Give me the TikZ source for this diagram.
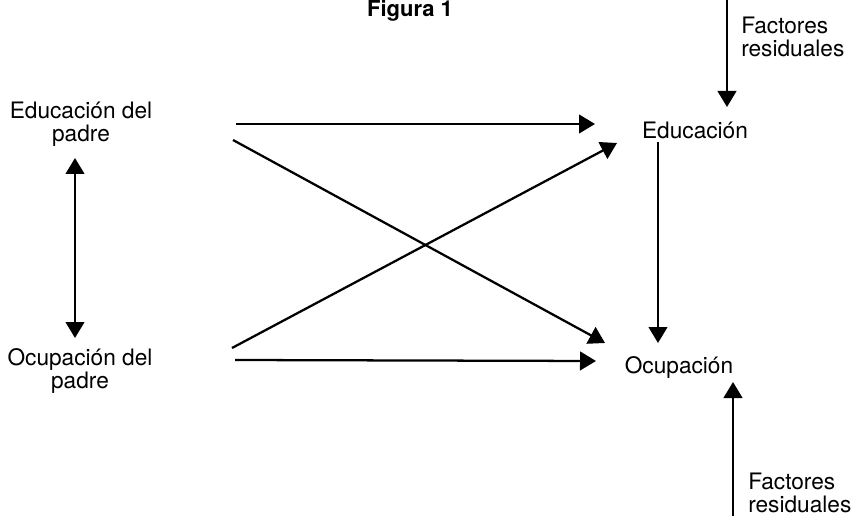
\documentclass[tikz,border=0pt]{standalone}
\usepackage{fontspec}
\setmainfont{TeX Gyre Heros}
\usetikzlibrary{arrows.meta}

\begin{document}
\begin{tikzpicture}[x=0.75pt,y=-0.75pt,
    arr/.style={line width=1.7pt,-{Triangle[length=12pt,width=14pt]}},
    dblarr/.style={line width=1.7pt,{Triangle[length=12pt,width=14pt]}-{Triangle[length=12pt,width=14pt]}},
    lbl/.style={font=\fontsize{17}{17.5}\selectfont,align=center,inner sep=0pt}]
  \useasboundingbox (0,0) rectangle (852,516);
  % title
  \node[font=\fontsize{16.5}{17.5}\selectfont\bfseries,anchor=base,inner sep=0pt] (tit) at (410,17) {Figura 1};
  % variables
  \node[lbl] (edp) at (81,124) {Educación del\\padre};
  \node[lbl] (ocp) at (80,371) {Ocupación del\\padre};
  \node[lbl] (edu) at (695,130) {Educación};
  \node[lbl] (ocu) at (679,368) {Ocupación};
  \node[lbl,align=left,anchor=west] (frt) at (741,37) {Factores\\residuales};
  \node[lbl,align=left,anchor=west] (frb) at (748,493) {Factores\\residuales};
  % arrow ends
  \coordinate (edp-a) at (236,124);
  \coordinate (edp-b) at (233,140);
  \coordinate (ocp-a) at (232,348);
  \coordinate (ocp-b) at (235,360);
  \coordinate (edu-a) at (595,124);
  \coordinate (edu-b) at (617,143);
  \coordinate (edu-c) at (658,142);
  \coordinate (ocu-a) at (605,343);
  \coordinate (ocu-b) at (596,361);
  \coordinate (ocu-c) at (658,343);
  \coordinate (frt-a) at (727,0);
  \coordinate (frt-b) at (727,107);
  \coordinate (frb-a) at (733,516);
  \coordinate (frb-b) at (733,382);
  \coordinate (edp-c) at (75,158);
  \coordinate (ocp-c) at (75,338);
  % paths
  \draw[dblarr] (edp-c) -- (ocp-c);
  \draw[arr] (edp-a) -- (edu-a);
  \draw[arr] (edp-b) -- (ocu-a);
  \draw[arr] (ocp-a) -- (edu-b);
  \draw[arr] (ocp-b) -- (ocu-b);
  \draw[arr] (edu-c) -- (ocu-c);
  \draw[arr] (frt-a) -- (frt-b);
  \draw[arr] (frb-a) -- (frb-b);
\end{tikzpicture}
\end{document}
